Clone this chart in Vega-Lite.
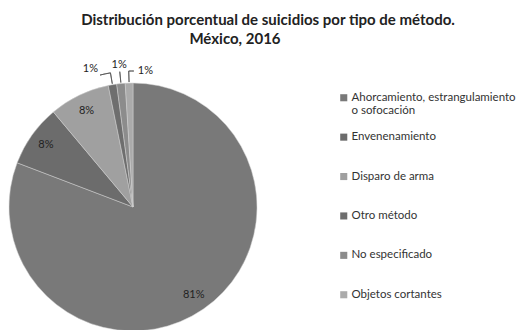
{
  "$schema": "https://vega.github.io/schema/vega-lite/v6.json",
  "width": 266,
  "height": 310,
  "padding": {"top": 13, "left": 0, "right": 0, "bottom": 0},
  "background": "white",
  "title": {
    "text": ["Distribución porcentual de suicidios por tipo de método.", "México, 2016\u2800\u2800\u2800\u2800\u2800\u2800"],
    "font": "Lato",
    "fontSize": 15,
    "fontWeight": "bold",
    "color": "#222222",
    "anchor": "middle",
    "frame": "group",
    "dx": 135,
    "offset": 5,
    "lineHeight": 19
  },
  "config": {"view": {"stroke": null}},
  "data": {
    "values": [
      {"orden": 1, "metodo": "Ahorcamiento, estrangulamiento o sofocación", "pct": 80.8, "label": "81%"},
      {"orden": 2, "metodo": "Envenenamiento", "pct": 8.1, "label": "8%"},
      {"orden": 3, "metodo": "Disparo de arma", "pct": 7.9, "label": "8%"},
      {"orden": 4, "metodo": "Otro método", "pct": 1.1, "label": "1%"},
      {"orden": 5, "metodo": "No especificado", "pct": 1.1, "label": "1%"},
      {"orden": 6, "metodo": "Objetos cortantes", "pct": 1.0, "label": "1%"}
    ]
  },
  "transform": [
    {"stack": "pct", "groupby": [], "sort": [{"field": "orden", "order": "ascending"}], "as": ["t0", "t1"]},
    {"calculate": "(datum.t0 + datum.t1) / 2", "as": "mid"},
    {"calculate": "datum.orden == 4 ? datum.mid - 1.25 : (datum.orden == 6 ? datum.mid + 0.6 : datum.mid)", "as": "hend"}
  ],
  "layer": [
    {
      "mark": {"type": "arc", "outerRadius": 124, "stroke": "#d0d0d0", "strokeWidth": 0.5},
      "encoding": {
        "theta": {"field": "t0", "type": "quantitative", "scale": {"domain": [0, 100]}},
        "theta2": {"field": "t1"},
        "color": {
          "field": "metodo",
          "type": "nominal",
          "scale": {
            "domain": ["Ahorcamiento, estrangulamiento o sofocación", "Envenenamiento", "Disparo de arma", "Otro método", "No especificado", "Objetos cortantes"],
            "range": ["#797979", "#6c6c6c", "#a0a0a0", "#6e6e6e", "#8c8c8c", "#ababab"]
          },
          "legend": {
            "orient": "none",
            "legendX": 338,
            "legendY": 40,
            "title": null,
            "symbolType": "square",
            "symbolSize": 50,
            "symbolStrokeWidth": 0,
            "labelFont": "Lato",
            "labelFontSize": 11.5,
            "labelColor": "#333333",
            "labelLineHeight": 16,
            "rowPadding": 13.4,
            "labelLimit": 300,
            "labelOffset": 2,
            "labelExpr": "datum.label == 'Ahorcamiento, estrangulamiento o sofocación' ? ['Ahorcamiento, estrangulamiento', 'o sofocación'] : [datum.label, '\u00a0']",
            "encode": {"labels": {"update": {"dy": {"value": 8}}}}
          }
        }
      }
    },
    {
      "transform": [{"filter": "datum.pct > 5"}],
      "mark": {"type": "text", "radius": 107, "font": "Lato", "fontSize": 11, "color": "#222222"},
      "encoding": {
        "theta": {"field": "mid", "type": "quantitative"},
        "text": {"field": "label"}
      }
    },
    {
      "transform": [{"filter": "datum.pct < 5"}],
      "mark": {"type": "arc", "innerRadius": 125, "outerRadius": 136, "fill": null, "stroke": "#555555", "strokeWidth": 0.8},
      "encoding": {
        "theta": {"field": "mid", "type": "quantitative"},
        "theta2": {"field": "mid"}
      }
    },
    {
      "transform": [{"filter": "datum.orden == 4 || datum.orden == 6"}],
      "mark": {"type": "arc", "innerRadius": 136, "outerRadius": 136, "fill": null, "stroke": "#555555", "strokeWidth": 0.8},
      "encoding": {
        "theta": {"field": "mid", "type": "quantitative"},
        "theta2": {"field": "hend"}
      }
    },
    {
      "transform": [{"filter": "datum.orden == 4"}],
      "mark": {"type": "text", "radius": 140, "align": "right", "baseline": "middle", "dx": -1, "dy": -2, "font": "Lato", "fontSize": 11, "color": "#222222"},
      "encoding": {
        "theta": {"field": "hend", "type": "quantitative"},
        "text": {"field": "label"}
      }
    },
    {
      "transform": [{"filter": "datum.orden == 5"}],
      "mark": {"type": "text", "radius": 143, "align": "center", "baseline": "middle", "font": "Lato", "fontSize": 11, "color": "#222222"},
      "encoding": {
        "theta": {"field": "hend", "type": "quantitative"},
        "text": {"field": "label"}
      }
    },
    {
      "transform": [{"filter": "datum.orden == 6"}],
      "mark": {"type": "text", "radius": 136, "align": "left", "baseline": "middle", "dx": 4, "font": "Lato", "fontSize": 11, "color": "#222222"},
      "encoding": {
        "theta": {"field": "hend", "type": "quantitative"},
        "text": {"field": "label"}
      }
    }
  ]
}
